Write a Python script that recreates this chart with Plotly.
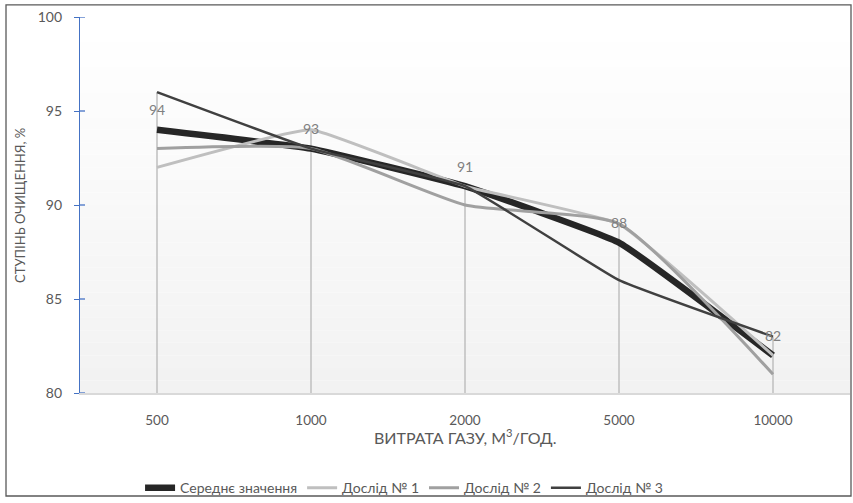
import plotly.graph_objects as go

# Gas flow rate categories, m3/h
categories = ["500", "1000", "2000", "5000", "10000"]

# Cleaning efficiency, %
mean_values = [94, 93, 91, 88, 82]
trial_1 = [92, 94, 91, 89, 82]
trial_2 = [93, 93, 90, 89, 81]
trial_3 = [96, 93, 91, 86, 83]

series_names = ["Середнє значення", "Дослід № 1", "Дослід № 2", "Дослід № 3"]
y_ticks = [80, 85, 90, 95, 100]

TEXT = "#595959"
FONT = "Lato"

fig = go.Figure()

# Drop lines from the axis floor up to the highest value at each category
all_series = [mean_values, trial_1, trial_2, trial_3]
drop_x, drop_y = [], []
for i, c in enumerate(categories):
    top = max(s[i] for s in all_series)
    drop_x += [c, c, None]
    drop_y += [y_ticks[0], top, None]
fig.add_trace(go.Scatter(x=drop_x, y=drop_y, mode="lines",
                         line=dict(color="#bfbfbf", width=1.5),
                         showlegend=False, hoverinfo="skip"))

styles = [
    dict(color="#262626", width=6.5, smoothing=0.3),
    dict(color="#bfbfbf", width=3, smoothing=0.3),
    dict(color="#a0a0a0", width=3, smoothing=0.5),
    dict(color="#404040", width=2.5, smoothing=0.3),
]
for name, vals, st in zip(series_names, all_series, styles):
    fig.add_trace(go.Scatter(
        x=categories, y=vals, mode="lines", name=name,
        line=dict(color=st["color"], width=st["width"], shape="spline",
                  smoothing=st["smoothing"]),
    ))

# Value labels for the mean series (x given as category index)
for i, v in enumerate(mean_values):
    fig.add_annotation(x=i, y=v, xref="x", yref="y", text=str(v),
                       showarrow=False, yshift=20,
                       font=dict(family=FONT, size=14, color="#7f7f7f"))

# Background gradient of the plotting area (white to light grey)
shapes = []
n_bands = 30
for k in range(n_bands):
    t = k / (n_bands - 1)
    g = round(255 - 13 * t)
    shapes.append(dict(type="rect", xref="paper", yref="paper",
                       x0=0, x1=1, y0=1 - (k + 1) / n_bands, y1=1 - k / n_bands,
                       fillcolor=f"rgb({g},{g},{g})", line=dict(width=0),
                       layer="below"))
# Chart border
shapes.append(dict(type="rect", xref="paper", yref="paper",
                   x0=-0.0961, x1=1.0013, y0=-0.274, y1=1.032,
                   line=dict(color="#595959", width=1.3)))
# Inner halves of the y-axis tick marks
for t in y_ticks:
    shapes.append(dict(type="line", xref="paper", yref="y", x0=0, x1=0.0065,
                       y0=t, y1=t, line=dict(color="#4472c4", width=1.3)))

# Axis titles
fig.add_annotation(xref="paper", yref="paper", x=-0.078, y=0.5,
                   xanchor="center", yanchor="middle",
                   text="СТУПІНЬ ОЧИЩЕННЯ, %", textangle=-90, showarrow=False,
                   font=dict(family=FONT, size=13, color=TEXT))
fig.add_annotation(xref="paper", yref="paper", x=0.5, y=-0.117,
                   xanchor="center", yanchor="middle",
                   text="ВИТРАТА ГАЗУ, М<sup>3</sup>/ГОД.", showarrow=False,
                   font=dict(family=FONT, size=16, color=TEXT))

fig.update_layout(
    width=853, height=503,
    margin=dict(l=80, r=3, t=17, b=110, autoexpand=False),
    paper_bgcolor="white", plot_bgcolor="rgba(0,0,0,0)",
    font=dict(family=FONT, size=13, color=TEXT),
    shapes=shapes,
    showlegend=True,
    legend=dict(orientation="h", x=0.078, y=-0.253, xanchor="left",
                yanchor="middle", font=dict(family=FONT, size=14, color=TEXT),
                itemwidth=30, tracegroupgap=0, bgcolor="rgba(0,0,0,0)"),
    xaxis=dict(type="category", categoryorder="array", categoryarray=categories,
               range=[-0.5, 4.5], showgrid=False, zeroline=False,
               showline=True, linecolor="#d9d9d9", linewidth=1.5,
               ticks="", ticklabelstandoff=14,
               tickfont=dict(family=FONT, size=13.5, color=TEXT)),
    yaxis=dict(range=[80, 100], tickvals=y_ticks, showgrid=False,
               zeroline=False, showline=True, linecolor="#4472c4",
               linewidth=1.3, ticks="outside", ticklen=5, tickwidth=1.3,
               tickcolor="#4472c4", ticklabelstandoff=9,
               tickfont=dict(family=FONT, size=14, color=TEXT)),
)

fig.write_html("out.html")
